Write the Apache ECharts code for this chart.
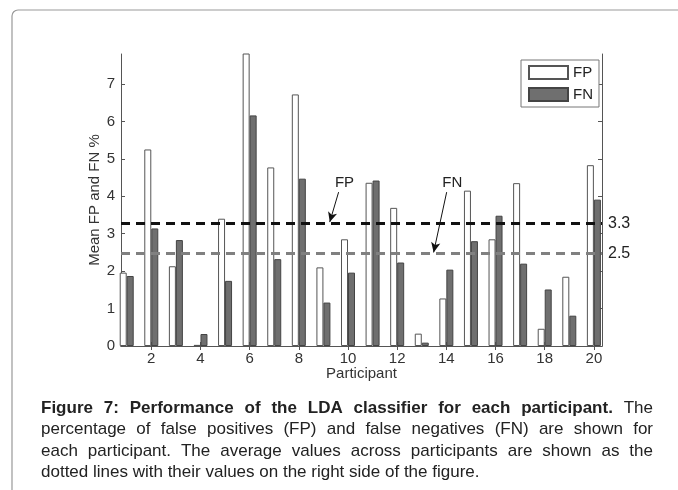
<!DOCTYPE html>
<html>
<head>
<meta charset="utf-8">
<script src="https://cdn.jsdelivr.net/npm/echarts@6/dist/echarts.min.js"></script>
<style>
  html, body { margin: 0; padding: 0; background: #fff; }
  #chart { width: 678px; height: 490px; }
</style>
</head>
<body>
<div id="chart"></div>
<script>
// data
const participants = [1, 2, 3, 4, 5, 6, 7, 8, 9, 10, 11, 12, 13, 14, 15, 16, 17, 18, 19, 20];
const fpValues = [1.96, 5.25, 2.13, 0.03, 3.40, 8.3, 4.77, 6.72, 2.10, 2.85, 4.36, 3.69, 0.33, 1.27, 4.15, 2.85, 4.35, 0.46, 1.85, 4.83];
const fnValues = [1.87, 3.14, 2.83, 0.32, 1.74, 6.16, 2.32, 4.47, 1.16, 1.96, 4.42, 2.23, 0.09, 2.04, 2.80, 3.48, 2.20, 1.51, 0.81, 3.91];
const meanFP = 3.27;
const meanFN = 2.48;
const xTicks = [2, 4, 6, 8, 10, 12, 14, 16, 18, 20];
const yTicks = [0, 1, 2, 3, 4, 5, 6, 7];

// arrows pointing at the mean lines: [from, to], and where the word sits
const fpArrow = [[9.76, 4.11], [9.40, 3.31]];
const fnArrow = [[13.87, 4.11], [13.34, 2.50]];
const fpNote = [10.0, 4.37];
const fnNote = [14.1, 4.37];

// caption: [bold part, regular part]; last line is not justified
const captionLines = [
    ['Figure 7: Performance of the LDA classifier for each participant.', 'The'],
    ['', 'percentage of false positives (FP) and false negatives (FN) are shown for'],
    ['', 'each participant. The average values across participants are shown as the'],
    ['', 'dotted lines with their values on the right side of the figure.']
];

const font = "'Liberation Sans', Arial, Helvetica, sans-serif";
const capSize = 17;
const capLeft = 41, capRight = 653, capTop = 408, capStep = 21.5;

const chart = echarts.init(document.getElementById('chart'));

function pairs(ys) {
    return participants.map((p, i) => [p, ys[i]]);
}

// justified caption, one text element per word
const measure = document.createElement('canvas').getContext('2d');
function captionGraphics() {
    const out = [];
    captionLines.forEach((line, li) => {
        const words = [];
        line[0].split(' ').filter(w => w).forEach(w => words.push({ w: w, bold: true }));
        line[1].split(' ').filter(w => w).forEach(w => words.push({ w: w, bold: false }));
        let total = 0;
        words.forEach(o => {
            measure.font = (o.bold ? 'bold ' : '') + capSize + 'px ' + font;
            o.width = measure.measureText(o.w).width;
            total += o.width;
        });
        measure.font = capSize + 'px ' + font;
        let gap = measure.measureText(' ').width;
        if (li < captionLines.length - 1) {
            gap = (capRight - capLeft - total) / (words.length - 1);
        }
        let x = capLeft;
        words.forEach(o => {
            out.push({
                type: 'text',
                x: x,
                y: capTop + li * capStep,
                silent: true,
                style: {
                    text: o.w,
                    font: (o.bold ? 'bold ' : '') + capSize + 'px ' + font,
                    fill: '#222',
                    verticalAlign: 'middle'
                }
            });
            x += o.width + gap;
        });
    });
    return out;
}

chart.setOption({
    animation: false,
    textStyle: { fontFamily: font },
    graphic: [{
        type: 'rect',
        shape: { x: 12, y: 10, width: 720, height: 520, r: [6, 0, 0, 0] },
        style: { fill: 'none', stroke: '#999', lineWidth: 1.2 },
        silent: true
    }].concat(captionGraphics()),
    legend: {
        data: ['FP', 'FN'],
        orient: 'vertical',
        left: 521,
        top: 60,
        icon: 'rect',
        itemWidth: 39,
        itemHeight: 13,
        itemGap: 7,
        padding: [5, 6, 5, 7],
        borderColor: '#777',
        borderWidth: 1,
        backgroundColor: '#fff',
        textStyle: { fontSize: 15, color: '#222' }
    },
    grid: { left: 121, right: 76, top: 54, bottom: 144 },
    xAxis: [{
        type: 'value',
        min: 0.768,
        max: 20.33,
        name: 'Participant',
        nameLocation: 'middle',
        nameGap: 20,
        nameMoveOverlap: false,
        nameTextStyle: { fontSize: 15, color: '#333' },
        axisLine: { lineStyle: { color: '#555' } },
        axisTick: { inside: true, length: 4, customValues: xTicks, lineStyle: { color: '#555' } },
        axisLabel: { customValues: xTicks, fontSize: 15, color: '#333', margin: 5 },
        splitLine: { show: false }
    }, {
        type: 'value',
        position: 'top',
        min: 0.768,
        max: 20.33,
        axisLine: { lineStyle: { color: '#555' } },
        axisTick: { inside: true, length: 4, customValues: xTicks, lineStyle: { color: '#555' } },
        axisLabel: { show: false },
        splitLine: { show: false }
    }],
    yAxis: [{
        type: 'value',
        min: 0,
        max: 7.8,
        name: 'Mean FP and FN %',
        nameLocation: 'middle',
        nameGap: 19,
        nameMoveOverlap: false,
        nameTextStyle: { fontSize: 15, color: '#333' },
        axisLine: { show: true, lineStyle: { color: '#555' } },
        axisTick: { show: true, inside: true, length: 4, customValues: yTicks, lineStyle: { color: '#555' } },
        axisLabel: { customValues: yTicks, fontSize: 15, color: '#333', margin: 6 },
        splitLine: { show: false }
    }, {
        type: 'value',
        position: 'right',
        min: 0,
        max: 7.8,
        axisLine: { show: true, lineStyle: { color: '#555' } },
        axisTick: { show: true, inside: true, length: 4, customValues: yTicks, lineStyle: { color: '#555' } },
        axisLabel: { show: false },
        splitLine: { show: false }
    }],
    series: [{
        name: 'FP',
        type: 'bar',
        data: pairs(fpValues),
        barWidth: 7,
        barGap: '0%',
        clip: true,
        itemStyle: { color: '#fff', borderColor: '#555', borderWidth: 1 },
        markLine: {
            silent: true,
            symbol: 'none',
            data: [
                {
                    yAxis: meanFP,
                    lineStyle: { color: '#111', width: 3, type: [9, 6] },
                    label: { position: 'end', distance: 6, fontSize: 16, color: '#222', formatter: p => p.value.toFixed(1) }
                },
                [
                    { coord: fpArrow[0], symbol: 'none', lineStyle: { color: '#111', width: 1, type: 'solid' }, label: { show: false } },
                    { coord: fpArrow[1], symbol: 'arrow', symbolSize: [7, 10] }
                ]
            ]
        },
        markPoint: {
            silent: true,
            symbol: 'rect',
            symbolSize: 1,
            itemStyle: { color: 'rgba(0,0,0,0)' },
            label: { show: true, position: 'inside', fontSize: 15, color: '#222', formatter: p => p.name },
            data: [{ name: 'FP', coord: fpNote }]
        }
    }, {
        name: 'FN',
        type: 'bar',
        data: pairs(fnValues),
        barWidth: 7,
        barGap: '0%',
        clip: true,
        itemStyle: { color: '#6f6f6f', borderColor: '#444', borderWidth: 1 },
        markLine: {
            silent: true,
            symbol: 'none',
            data: [
                {
                    yAxis: meanFN,
                    lineStyle: { color: '#808080', width: 3, type: [9, 6] },
                    label: { position: 'end', distance: 6, fontSize: 16, color: '#222', formatter: p => p.value.toFixed(1) }
                },
                [
                    { coord: fnArrow[0], symbol: 'none', lineStyle: { color: '#111', width: 1, type: 'solid' }, label: { show: false } },
                    { coord: fnArrow[1], symbol: 'arrow', symbolSize: [7, 10] }
                ]
            ]
        },
        markPoint: {
            silent: true,
            symbol: 'rect',
            symbolSize: 1,
            itemStyle: { color: 'rgba(0,0,0,0)' },
            label: { show: true, position: 'inside', fontSize: 15, color: '#222', formatter: p => p.name },
            data: [{ name: 'FN', coord: fnNote }]
        }
    }]
});
</script>
</body>
</html>
